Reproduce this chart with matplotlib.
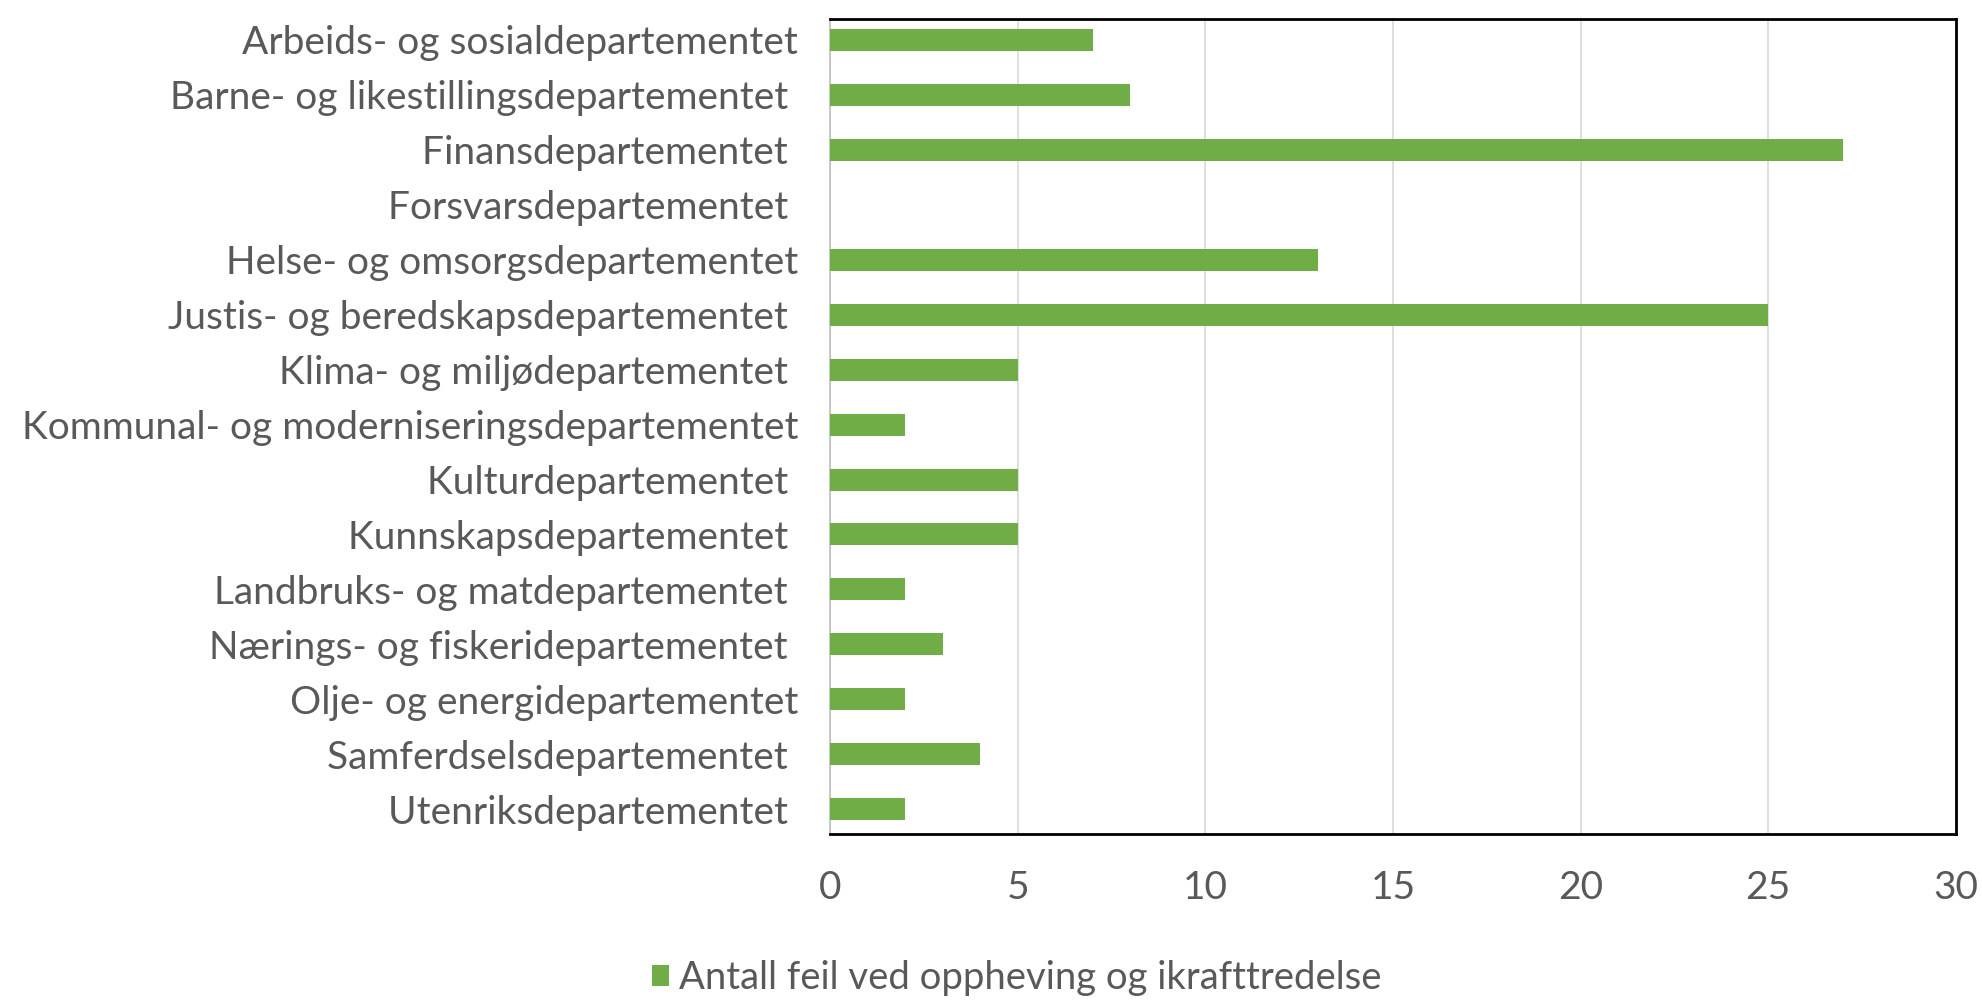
import matplotlib.pyplot as plt

departementer = [
    'Arbeids- og sosialdepartementet',
    'Barne- og likestillingsdepartementet ',
    'Finansdepartementet ',
    'Forsvarsdepartementet ',
    'Helse- og omsorgsdepartementet',
    'Justis- og beredskapsdepartementet ',
    'Klima- og miljødepartementet ',
    'Kommunal- og moderniseringsdepartementet',
    'Kulturdepartementet ',
    'Kunnskapsdepartementet ',
    'Landbruks- og matdepartementet ',
    'Nærings- og fiskeridepartementet ',
    'Olje- og energidepartementet',
    'Samferdselsdepartementet ',
    'Utenriksdepartementet ',
]
antall_feil = [7, 8, 27, 0, 13, 25, 5, 2, 5, 5, 2, 3, 2, 4, 2]
serie_navn = 'Antall feil ved oppheving og ikrafttredelse'
x_ticks = [0, 5, 10, 15, 20, 25, 30]

plt.rcParams['font.family'] = ['Lato', 'DejaVu Sans']
tekst = '#595959'

fig = plt.figure(figsize=(19.82, 10), dpi=100)
ax = fig.add_axes([0.4188, 0.166, 0.568, 0.815])

ax.barh(range(len(departementer)), antall_feil, height=0.4, color='#70AD47',
        label=serie_navn, zorder=3)

ax.set_ylim(14.45, -0.38)
ax.set_xlim(0, 30)
ax.set_xticks(x_ticks)
ax.set_yticks(range(len(departementer)))
ax.set_yticklabels(departementer)
ax.xaxis.grid(True, color='#D9D9D9', linewidth=1.2, zorder=0)

for side in ['top', 'right', 'bottom']:
    ax.spines[side].set_color('black')
    ax.spines[side].set_linewidth(2)
ax.spines['left'].set_color('#BFBFBF')
ax.spines['left'].set_linewidth(1.2)

ax.tick_params(axis='both', length=0, labelsize=28, labelcolor=tekst)
ax.tick_params(axis='x', pad=26)
ax.tick_params(axis='y', pad=23)

fig.legend(loc='center', bbox_to_anchor=(0.513, 0.022), frameon=False,
           fontsize=27.5, labelcolor=tekst, handlelength=0.45, handleheight=0.45,
           handletextpad=0.25)

plt.savefig('out.png', dpi=100, facecolor='white')
